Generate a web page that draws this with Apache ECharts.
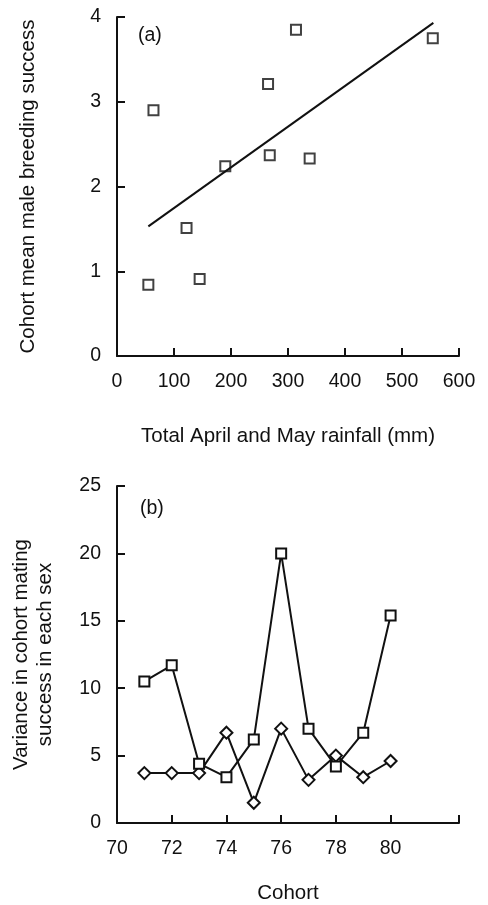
<!DOCTYPE html>
<html>
<head>
<meta charset="utf-8">
<script src="https://cdn.jsdelivr.net/npm/echarts@6/dist/echarts.min.js"></script>
<style>
    html, body { margin: 0; padding: 0; background: #fff; }
    #chart { width: 488px; height: 905px; }
</style>
</head>
<body>
<div id="chart"></div>
<script>
// (a) rainfall vs breeding success
const rainfall = [55, 64, 122, 145, 190, 265, 268, 314, 338, 554];
const breeding = [0.84, 2.9, 1.51, 0.91, 2.24, 3.21, 2.37, 3.85, 2.33, 3.75];
const fitX = [55, 555];
const fitY = [1.53, 3.93];

// (b) variance per cohort
const cohorts = [71, 72, 73, 74, 75, 76, 77, 78, 79, 80];
const squareVar = [10.5, 11.7, 4.4, 3.4, 6.2, 20.0, 7.0, 4.2, 6.7, 15.4];
const diamondVar = [3.7, 3.7, 3.7, 6.7, 1.5, 7.0, 3.2, 5.0, 3.4, 4.6];
const cohortTicks = [70, 72, 74, 76, 78, 80, 82.5];
const cohortLabels = [70, 72, 74, 76, 78, 80];

const font = 'Liberation Sans';
const ink = '#111';

function axisBase() {
    return {
        axisLine: { show: true, onZero: false, lineStyle: { color: ink, width: 2 } },
        axisTick: { show: true, inside: true, length: 8, lineStyle: { color: ink, width: 2 } },
        axisLabel: { color: ink, fontSize: 19.5, fontFamily: font, margin: 16 },
        splitLine: { show: false },
        nameTextStyle: { color: ink, fontSize: 20.5, fontFamily: font },
        nameMoveOverlap: false
    };
}

const pairs = (xs, ys) => xs.map((x, i) => [x, ys[i]]);

let chart = echarts.init(document.getElementById('chart'), null, { renderer: 'canvas' });

chart.setOption({
    backgroundColor: '#fff',
    animation: false,
    grid: [
        { left: 117, top: 17, width: 342, height: 339 },
        { left: 117, top: 486, width: 342, height: 339 }
    ],
    xAxis: [
        Object.assign(axisBase(), {
            type: 'value', gridIndex: 0, min: 0, max: 600, interval: 100,
            name: 'Total April and May rainfall (mm)', nameLocation: 'middle', nameGap: 70
        }),
        Object.assign(axisBase(), {
            type: 'value', gridIndex: 1, min: 70, max: 82.5,
            name: 'Cohort', nameLocation: 'middle', nameGap: 60,
            axisTick: { show: true, inside: true, length: 8, customValues: cohortTicks, lineStyle: { color: ink, width: 2 } },
            axisLabel: { color: ink, fontSize: 19.5, fontFamily: font, margin: 16, customValues: cohortLabels }
        })
    ],
    yAxis: [
        Object.assign(axisBase(), {
            type: 'value', gridIndex: 0, min: 0, max: 4, interval: 1,
            name: 'Cohort mean male breeding success', nameLocation: 'middle', nameGap: 78
        }),
        Object.assign(axisBase(), {
            type: 'value', gridIndex: 1, min: 0, max: 25, interval: 5,
            name: 'Variance in cohort mating\nsuccess in each sex', nameLocation: 'middle', nameGap: 60,
            nameTextStyle: { color: ink, fontSize: 20.5, fontFamily: font, lineHeight: 24 }
        })
    ],
    graphic: [
        { type: 'text', left: 138, top: 26, style: { text: '(a)', font: '19.5px "Liberation Sans"', fill: ink } },
        { type: 'text', left: 140, top: 499, style: { text: '(b)', font: '19.5px "Liberation Sans"', fill: ink } }
    ],
    series: [
        {
            type: 'line', xAxisIndex: 0, yAxisIndex: 0,
            data: pairs(fitX, fitY), showSymbol: false,
            lineStyle: { color: ink, width: 2 }
        },
        {
            type: 'scatter', xAxisIndex: 0, yAxisIndex: 0,
            data: pairs(rainfall, breeding), symbol: 'rect', symbolSize: 10,
            itemStyle: { color: '#fff', borderColor: ink, borderWidth: 2 }
        },
        {
            type: 'line', xAxisIndex: 1, yAxisIndex: 1,
            data: pairs(cohorts, diamondVar), symbol: 'diamond', symbolSize: 12,
            lineStyle: { color: ink, width: 2 },
            itemStyle: { color: '#fff', borderColor: ink, borderWidth: 2 }
        },
        {
            type: 'line', xAxisIndex: 1, yAxisIndex: 1,
            data: pairs(cohorts, squareVar), symbol: 'rect', symbolSize: 10,
            lineStyle: { color: ink, width: 2 },
            itemStyle: { color: '#fff', borderColor: ink, borderWidth: 2 }
        }
    ]
});
</script>
</body>
</html>
